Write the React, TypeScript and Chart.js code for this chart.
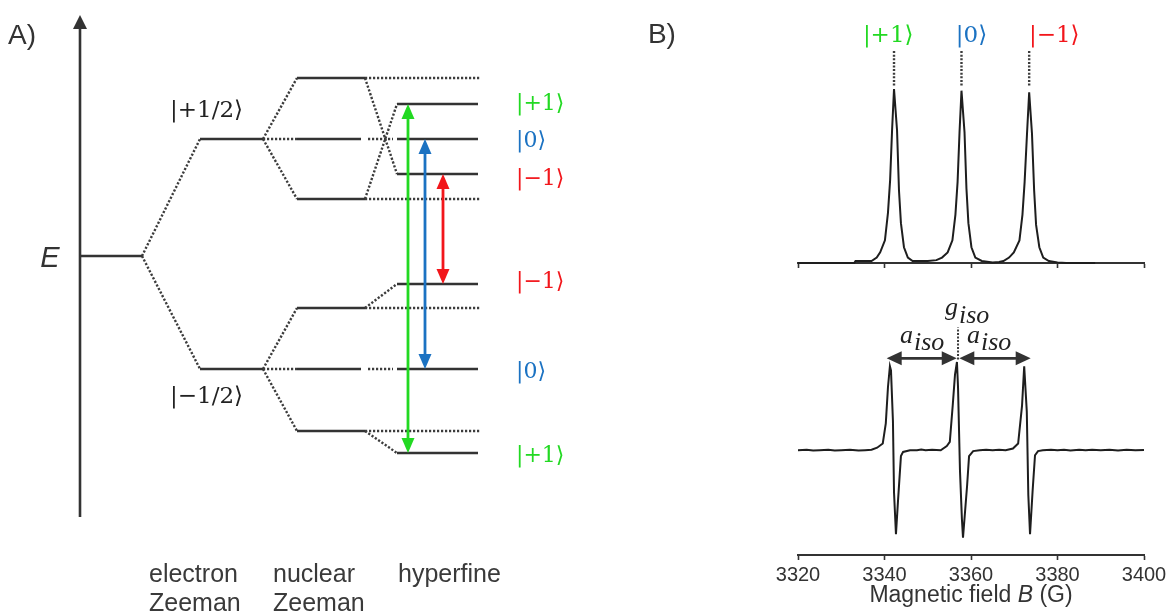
import React, { useEffect, useRef } from 'react';
import { Chart, registerables } from 'chart.js';

Chart.register(...registerables);

const W = 1170;
const H = 615;

// ===== Panel A: energy levels (arbitrary energy units) =====
const baseEnergy = 0;
const electronEnergies = [11.7, -11.3];
const electronLabels = ['|+1/2⟩', '|−1/2⟩'];
const nuclearSpins = [1, 0, -1];
const spinLabels = ['|+1⟩', '|0⟩', '|−1⟩'];
const spinColors = ['#22d922', '#1b72c2', '#f2161b'];
const nuclearUpper = [5.7, 11.7, 17.8];
const nuclearLower = [-17.5, -11.3, -5.2];
const hyperfineUpper = [15.2, 11.7, 8.2];
const hyperfineLower = [-19.7, -11.3, -2.8];
const stageLabels = [['electron', 'Zeeman'], ['nuclear', 'Zeeman'], ['hyperfine']];
const energyAxis = [-26.1, 24.1];

// ===== Panel B: spectra (field in G, normalised intensity) =====
const fieldTicks = [3320, 3340, 3360, 3380, 3400];
const peakFields = [3342.2, 3357.8, 3373.45];
const absorptionB = [
  3320.0, 3333.0, 3333.3, 3337.0, 3338.2, 3339.0, 3340.1, 3340.8, 3341.3, 3341.75, 3342.2,
  3342.9, 3343.35, 3343.8, 3344.5, 3345.4, 3346.5, 3350.0, 3352.0, 3353.3, 3354.6, 3355.7,
  3356.4, 3356.9, 3357.35, 3357.8, 3358.5, 3358.95, 3359.4, 3360.1, 3361.0, 3362.5, 3365.0,
  3366.5, 3367.5, 3368.8, 3369.9, 3371.2, 3371.9, 3372.4, 3372.95, 3373.45, 3374.1, 3374.6,
  3375.05, 3375.8, 3376.7, 3378.0, 3380.0, 3382.0, 3388.7,
];
const absorptionI = [
  -0.012, -0.012, 0.0, 0.0, 0.02, 0.05, 0.12, 0.28, 0.47, 0.76, 1.0,
  0.76, 0.41, 0.22, 0.08, 0.02, 0.0, 0.0, 0.005, 0.02, 0.05, 0.12,
  0.27, 0.46, 0.75, 0.99, 0.75, 0.42, 0.22, 0.08, 0.02, 0.0, -0.008,
  -0.006, 0.0, 0.02, 0.05, 0.12, 0.27, 0.46, 0.74, 0.98, 0.74, 0.41,
  0.21, 0.08, 0.02, 0.0, -0.008, -0.012, -0.012,
];
const derivativeB = [
  3320.0, 3322.0, 3323.5, 3325.0, 3327.0, 3328.5, 3330.0, 3332.0, 3334.0, 3335.5, 3337.0,
  3338.3, 3339.6, 3340.3, 3340.8, 3341.25, 3341.5, 3341.95, 3342.2, 3342.65, 3343.1, 3343.8,
  3344.3, 3345.9, 3347.5, 3348.5, 3349.5, 3351.0, 3353.0, 3354.4, 3355.1, 3355.8, 3356.3,
  3356.75, 3357.0, 3357.45, 3357.9, 3358.15, 3359.1, 3359.55, 3360.5, 3362.0, 3363.5, 3365.0,
  3366.5, 3368.0, 3369.7, 3370.9, 3371.8, 3372.3, 3372.9, 3373.25, 3373.65, 3374.25, 3374.8,
  3375.5, 3376.6, 3378.5, 3380.0, 3381.5, 3383.0, 3385.0, 3386.5, 3388.0, 3390.0, 3392.0,
  3394.0, 3396.0, 3398.0, 3400.0,
];
const derivativeI = [
  0.0, 0.005, -0.004, 0.0, 0.006, -0.003, 0.0, 0.005, -0.004, 0.0, 0.005,
  0.03, 0.08, 0.32, 0.75, 1.0, 0.95, 0.35, -0.5, -1.0, -0.62, -0.07,
  -0.02, 0.0, 0.0, 0.008, 0.0, 0.005, 0.0, 0.05, 0.1, 0.55, 0.9,
  1.05, 0.75, -0.24, -0.82, -1.04, -0.42, -0.07, -0.01, 0.0, 0.006, 0.0,
  0.005, 0.0, 0.02, 0.08, 0.53, 1.0, 0.46, -0.53, -1.0, -0.48, -0.06,
  -0.01, 0.0, 0.005, 0.0, 0.007, -0.003, 0.005, 0.0, 0.007, 0.0, 0.005,
  -0.003, 0.005, 0.0, 0.003,
];
const aIsoSpans = [[3340.5, 3356.7], [3357.3, 3373.8]];
const gIsoField = 3357.0;

// ===== layout (not data) =====
const LA = {
  x: [0, 117], y: [-35.9, 25.6],
  axisX: 8.0, base: [8.0, 14.2], electron: [20.0, 26.3], nuclear: [29.7, 36.5], nuclearMidEnd: 36.1,
  midDots: [36.8, 39.3], hyperfine: [39.7, 47.8], refEnd: 48.0,
  arrowX: [40.8, 42.5, 44.3], ketX: 51.6,
  ketDropUpper: [0.6, 0.8, 1.1], ketDropLower: [0.9, 0.9, 0.4],
  electronLabelX: 17.0, electronLabelY: [13.9, -14.7],
  stageX: [14.9, 27.3, 39.8], stageY: [-32.6, -35.5],
};

const SANS = '"Liberation Sans", Arial, sans-serif';
const KET = '"DejaVu Serif", serif';
const MATH = '"Liberation Serif", "DejaVu Serif", serif';
const DARK = '#333333';
const DOT = '#3c3c3c';

type Part = { t: string; font: string; dy?: number; dx?: number };
type TextItem = { x: number; y: number; parts: Part[]; color: string; align?: 'left' | 'center' };
type Arrow = { x1: number; y1: number; x2: number; y2: number; color: string; width: number; len: number; hw: number; start: boolean; end: boolean };

function makeTextPlugin(items: TextItem[]) {
  return {
    id: 'texts',
    afterDraw(chart: any) {
      const ctx = chart.ctx;
      const xs = chart.scales.x;
      const ys = chart.scales.y;
      ctx.save();
      ctx.textBaseline = 'alphabetic';
      ctx.textAlign = 'left';
      items.forEach((it) => {
        let px = xs.getPixelForValue(it.x);
        const py = ys.getPixelForValue(it.y);
        ctx.fillStyle = it.color;
        if (it.align === 'center') {
          let tw = 0;
          it.parts.forEach((p) => { ctx.font = p.font; tw += ctx.measureText(p.t).width + (p.dx || 0); });
          px -= tw / 2;
        }
        it.parts.forEach((p) => {
          ctx.font = p.font;
          px += p.dx || 0;
          ctx.fillText(p.t, px, py + (p.dy || 0));
          px += ctx.measureText(p.t).width;
        });
      });
      ctx.restore();
    },
  };
}

function drawHead(ctx: any, tx: number, ty: number, ux: number, uy: number, len: number, hw: number) {
  const bx = tx - ux * len;
  const by = ty - uy * len;
  ctx.beginPath();
  ctx.moveTo(tx, ty);
  ctx.lineTo(bx - uy * hw, by + ux * hw);
  ctx.lineTo(bx + uy * hw, by - ux * hw);
  ctx.closePath();
  ctx.fill();
}

function makeArrowPlugin(arrows: Arrow[]) {
  return {
    id: 'arrows',
    afterDatasetsDraw(chart: any) {
      const ctx = chart.ctx;
      const xs = chart.scales.x;
      const ys = chart.scales.y;
      ctx.save();
      arrows.forEach((a) => {
        const x1 = xs.getPixelForValue(a.x1), y1 = ys.getPixelForValue(a.y1);
        const x2 = xs.getPixelForValue(a.x2), y2 = ys.getPixelForValue(a.y2);
        const d = Math.hypot(x2 - x1, y2 - y1);
        const ux = (x2 - x1) / d, uy = (y2 - y1) / d;
        const s = a.start ? a.len * 0.8 : 0;
        const e = a.end ? a.len * 0.8 : 0;
        ctx.strokeStyle = a.color;
        ctx.fillStyle = a.color;
        ctx.lineWidth = a.width;
        ctx.beginPath();
        ctx.moveTo(x1 + ux * s, y1 + uy * s);
        ctx.lineTo(x2 - ux * e, y2 - uy * e);
        ctx.stroke();
        if (a.end) drawHead(ctx, x2, y2, ux, uy, a.len, a.hw);
        if (a.start) drawHead(ctx, x1, y1, -ux, -uy, a.len, a.hw);
      });
      ctx.restore();
    },
  };
}

function seg(x1: number, y1: number, x2: number, y2: number, dotted: boolean) {
  return {
    data: [{ x: x1, y: y1 }, { x: x2, y: y2 }],
    borderColor: dotted ? DOT : DARK,
    borderWidth: dotted ? 2.4 : 2.6,
    borderDash: dotted ? [2.2, 1.8] : [],
    pointRadius: 0,
    tension: 0,
    fill: false,
    clip: false,
  };
}

function panelAConfig() {
  const ds: any[] = [];
  ds.push(seg(LA.base[0], baseEnergy, LA.base[1], baseEnergy, false));
  const manifolds = [
    { el: electronEnergies[0], nu: nuclearUpper, hf: hyperfineUpper },
    { el: electronEnergies[1], nu: nuclearLower, hf: hyperfineLower },
  ];
  manifolds.forEach((m) => {
    ds.push(seg(LA.base[1], baseEnergy, LA.electron[0], m.el, true));
    ds.push(seg(LA.electron[0], m.el, LA.electron[1], m.el, false));
    nuclearSpins.forEach((mi, i) => {
      const en = m.nu[i];
      const eh = m.hf[i];
      ds.push(seg(LA.electron[1], m.el, LA.nuclear[0], en, true));
      if (mi === 0) {
        ds.push(seg(LA.nuclear[0], en, LA.nuclearMidEnd, en, false));
        ds.push(seg(LA.midDots[0], en, LA.midDots[1], eh, true));
      } else {
        ds.push(seg(LA.nuclear[0], en, LA.nuclear[1], en, false));
        ds.push(seg(LA.nuclear[1], en, LA.refEnd, en, true));
        ds.push(seg(LA.nuclear[1], en, LA.hyperfine[0], eh, true));
      }
      ds.push(seg(LA.hyperfine[0], eh, LA.hyperfine[1], eh, false));
    });
  });

  const arrows: Arrow[] = [
    { x1: LA.axisX, y1: energyAxis[0], x2: LA.axisX, y2: energyAxis[1], color: DARK, width: 2.6, len: 14, hw: 7, start: false, end: true },
  ];
  nuclearSpins.forEach((_, i) => {
    arrows.push({ x1: LA.arrowX[i], y1: hyperfineUpper[i], x2: LA.arrowX[i], y2: hyperfineLower[i], color: spinColors[i], width: 2.8, len: 15, hw: 6.5, start: true, end: true });
  });

  const texts: TextItem[] = [
    { x: 0.8, y: 21.2, parts: [{ t: 'A)', font: `28px ${SANS}` }], color: DARK },
    { x: 5.0, y: -1.1, parts: [{ t: 'E', font: `italic 29px ${SANS}` }], color: DARK, align: 'center' },
  ];
  electronLabels.forEach((t, i) => {
    texts.push({ x: LA.electronLabelX, y: LA.electronLabelY[i], parts: [{ t, font: `23px ${KET}` }], color: '#222' });
  });
  spinLabels.forEach((t, i) => {
    texts.push({ x: LA.ketX, y: hyperfineUpper[i] - LA.ketDropUpper[i], parts: [{ t, font: `22px ${KET}` }], color: spinColors[i] });
    texts.push({ x: LA.ketX, y: hyperfineLower[i] - LA.ketDropLower[i], parts: [{ t, font: `22px ${KET}` }], color: spinColors[i] });
  });
  stageLabels.forEach((lines, i) => {
    lines.forEach((t, j) => {
      texts.push({ x: LA.stageX[i], y: LA.stageY[j], parts: [{ t, font: `25px ${SANS}` }], color: '#3a3a3a' });
    });
  });

  return {
    type: 'line',
    data: { datasets: ds },
    options: {
      responsive: false,
      animation: false,
      events: [],
      layout: { padding: 0 },
      plugins: { legend: { display: false }, tooltip: { enabled: false } },
      scales: {
        x: { type: 'linear', display: false, min: LA.x[0], max: LA.x[1] },
        y: { type: 'linear', display: false, min: LA.y[0], max: LA.y[1] },
      },
    },
    plugins: [makeArrowPlugin(arrows), makeTextPlugin(texts)],
  };
}

function xAxis(showLabels: boolean) {
  return {
    type: 'linear',
    position: 'bottom',
    min: fieldTicks[0],
    max: fieldTicks[fieldTicks.length - 1],
    afterBuildTicks: (s: any) => { s.ticks = fieldTicks.map((v) => ({ value: v })); },
    ticks: {
      display: showLabels, color: DARK, padding: 3, maxRotation: 0,
      font: { family: SANS, size: 20 },
      callback: (v: any) => String(v),
    },
    grid: { display: true, drawOnChartArea: false, drawTicks: true, tickLength: 5, tickColor: DARK, tickWidth: 1.6 },
    border: { display: true, color: DARK, width: 2 },
  };
}

function topConfig() {
  const ds: any[] = [
    {
      data: absorptionB.map((b, i) => ({ x: b, y: absorptionI[i] })),
      borderColor: '#1e1e1e', borderWidth: 2, pointRadius: 0, tension: 0, clip: false,
    },
  ];
  peakFields.forEach((f) => {
    ds.push({ data: [{ x: f, y: 1.02 }, { x: f, y: 1.23 }], borderColor: DOT, borderWidth: 2.4, borderDash: [2, 1.6], pointRadius: 0, clip: false });
  });
  const texts: TextItem[] = [
    { x: 3285.3, y: 1.267, parts: [{ t: 'B)', font: `28px ${SANS}` }], color: DARK },
  ];
  const ketLeft = [3335.0, 3356.5, 3373.4];
  spinLabels.forEach((t, i) => {
    texts.push({ x: ketLeft[i], y: 1.273, parts: [{ t, font: `23px ${KET}` }], color: spinColors[i] });
  });
  return {
    type: 'line',
    data: { datasets: ds },
    options: {
      responsive: false,
      animation: false,
      events: [],
      layout: { padding: { left: 798, right: 26, top: 10, bottom: 347 } },
      plugins: { legend: { display: false }, tooltip: { enabled: false } },
      scales: {
        x: xAxis(false),
        y: { type: 'linear', display: false, min: -0.0116, max: 1.459 },
      },
    },
    plugins: [makeTextPlugin(texts)],
  };
}

function bottomConfig() {
  const ds: any[] = [
    {
      data: derivativeB.map((b, i) => ({ x: b, y: derivativeI[i] })),
      borderColor: '#1e1e1e', borderWidth: 2, pointRadius: 0, tension: 0, clip: false,
    },
    { data: [{ x: gIsoField, y: 1.08 }, { x: gIsoField, y: 1.46 }], borderColor: DOT, borderWidth: 2, borderDash: [2, 1.5], pointRadius: 0, clip: false },
  ];
  const arrows: Arrow[] = aIsoSpans.map(([a, b]) => ({ x1: a, y1: 1.094, x2: b, y2: 1.094, color: '#333', width: 2.8, len: 15, hw: 7, start: true, end: true }));
  const sub = (main: string, x: number, y: number, dy: number): TextItem => ({
    x, y, color: '#222',
    parts: [{ t: main, font: `italic 26px ${MATH}` }, { t: 'iso', font: `italic 26px ${MATH}`, dy, dx: 1 }],
  });
  const texts: TextItem[] = [
    sub('g', 3353.99, 1.612, 8),
    sub('a', 3343.58, 1.282, 7),
    sub('a', 3359.08, 1.282, 7),
    {
      x: 3360, y: -1.812, color: DARK, align: 'center',
      parts: [{ t: 'Magnetic field ', font: `23px ${SANS}` }, { t: 'B', font: `italic 23px ${SANS}` }, { t: ' (G)', font: `23px ${SANS}` }],
    },
  ];
  return {
    type: 'line',
    data: { datasets: ds },
    options: {
      responsive: false,
      animation: false,
      events: [],
      layout: { padding: { left: 798, right: 26, top: 300, bottom: 25 } },
      plugins: { legend: { display: false }, tooltip: { enabled: false } },
      scales: {
        x: xAxis(true),
        y: { type: 'linear', display: false, min: -1.247, max: 1.788 },
      },
    },
    plugins: [makeArrowPlugin(arrows), makeTextPlugin(texts)],
  };
}

function Layer({ make }: { make: () => any }) {
  const ref = useRef<HTMLCanvasElement>(null);
  useEffect(() => {
    const chart = new Chart(ref.current as HTMLCanvasElement, make());
    return () => chart.destroy();
  }, []);
  return (
    <canvas
      ref={ref}
      width={W}
      height={H}
      style={{ position: 'absolute', left: 0, top: 0, width: W, height: H }}
    />
  );
}

export default function App() {
  useEffect(() => {
    document.body.style.overflow = 'hidden';
  }, []);
  return (
    <div style={{ position: 'absolute', left: 0, top: 0, width: W, height: H, background: '#ffffff', overflow: 'hidden' }}>
      <Layer make={panelAConfig} />
      <Layer make={topConfig} />
      <Layer make={bottomConfig} />
    </div>
  );
}
